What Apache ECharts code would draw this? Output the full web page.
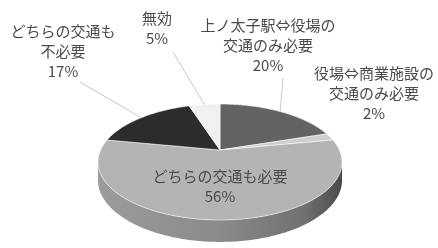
<!DOCTYPE html>
<html>
<head>
<meta charset="utf-8">
<script src="https://cdn.jsdelivr.net/npm/echarts@6/dist/echarts.min.js"></script>
<style>
  html, body { margin: 0; padding: 0; background: #fff; }
  #main { width: 438px; height: 248px; }
</style>
</head>
<body>
<div id="main"></div>
<script>
// 回答項目
var categories = ['上ノ太子駅⇔役場の\n交通のみ必要', '役場⇔商業施設の\n交通のみ必要', 'どちらの交通も必要', 'どちらの交通も\n不必要', '無効']
// 割合(%)
var values = [20, 2, 56, 17, 5]

// 色(上面)
var topColors = ['#636363', '#cfcfcf', '#b4b4b4', '#2c2c2c', '#f0f0f0']
// ラベル位置 (null = 扇形の内側)
var labelPos = [[268, 45], [374, 93], null, [63, 51], [157, 28]]
// 引き出し線の始点
var lineFrom = [[283, 78], null, null, [80, 82], [173, 52]]

// 3D円グラフの投影パラメータ
var cx = 220, cy = 150, R = 119.4, RT = 55.5, P = 0.207, H = 17.4

// 角度(12時から時計回り) -> 画面座標
function pt (deg, f, down) {
  var a = deg * Math.PI / 180
  var z = f * Math.cos(a)
  var d = 1 + P * z
  return [cx + R * f * Math.sin(a) / d, cy - RT * z / d + (down ? H / d : 0)]
}

function arc (s, e, down) {
  var pts = []
  var n = Math.max(1, Math.ceil(Math.abs(e - s)))
  for (var k = 0; k <= n; k++) {
    pts.push(pt(s + (e - s) * k / n, 1, down))
  }
  return pts
}

// 累積値
var data = []
var acc = 0
for (var i = 0; i < values.length; i++) {
  data.push([values[i], acc])
  acc += values[i]
}

function renderItem (params, api) {
  var i = params.dataIndex
  var v = api.value(0)
  var start = api.value(1)
  var a = start * 3.6
  var b = (start + v) * 3.6
  var mid = (a + b) / 2
  var children = []

  // 側面(手前側のみ見える)
  var s = Math.max(a, 102)
  var e = Math.min(b, 258)
  if (s < e) {
    var side = arc(s, e, false).concat(arc(e, s, true))
    children.push({
      type: 'polygon',
      shape: { points: side },
      style: {
        fill: new echarts.graphic.LinearGradient(0, 0, 1, 0, [
          { offset: 0, color: '#9c9c9c' },
          { offset: 0.5, color: '#8a8a8a' },
          { offset: 0.85, color: '#707070' },
          { offset: 1, color: '#4a4a4a' }
        ])
      }
    })
  }

  // 上面
  var top = [[cx, cy]].concat(arc(a, b, false))
  children.push({
    type: 'polygon',
    shape: { points: top },
    style: { fill: topColors[i], stroke: 'rgba(255,255,255,0.55)', lineWidth: 1 }
  })

  var text = categories[i] + '\n' + v + '%'
  var pos = labelPos[i]
  if (!pos) {
    pos = pt(mid, 0.57, false)
  }
  if (lineFrom[i]) {
    children.push({
      type: 'polyline',
      shape: { points: [lineFrom[i], pt(mid, 1, false)] },
      style: { stroke: '#c8c8c8', lineWidth: 1, fill: null }
    })
  }
  children.push({
    type: 'text',
    style: {
      text: text,
      x: pos[0],
      y: pos[1],
      fill: '#4a4a4a',
      fontSize: 15,
      fontFamily: 'Noto Sans CJK JP',
      align: 'center',
      verticalAlign: 'middle',
      lineHeight: 20
    }
  })

  return { type: 'group', children: children }
}

var myChart = echarts.init(document.getElementById('main'))
var option = {
  backgroundColor: '#fff',
  animation: false,
  series: [
    {
      type: 'custom',
      coordinateSystem: 'none',
      renderItem: renderItem,
      data: data
    }
  ]
}
myChart.setOption(option)
</script>
</body>
</html>
